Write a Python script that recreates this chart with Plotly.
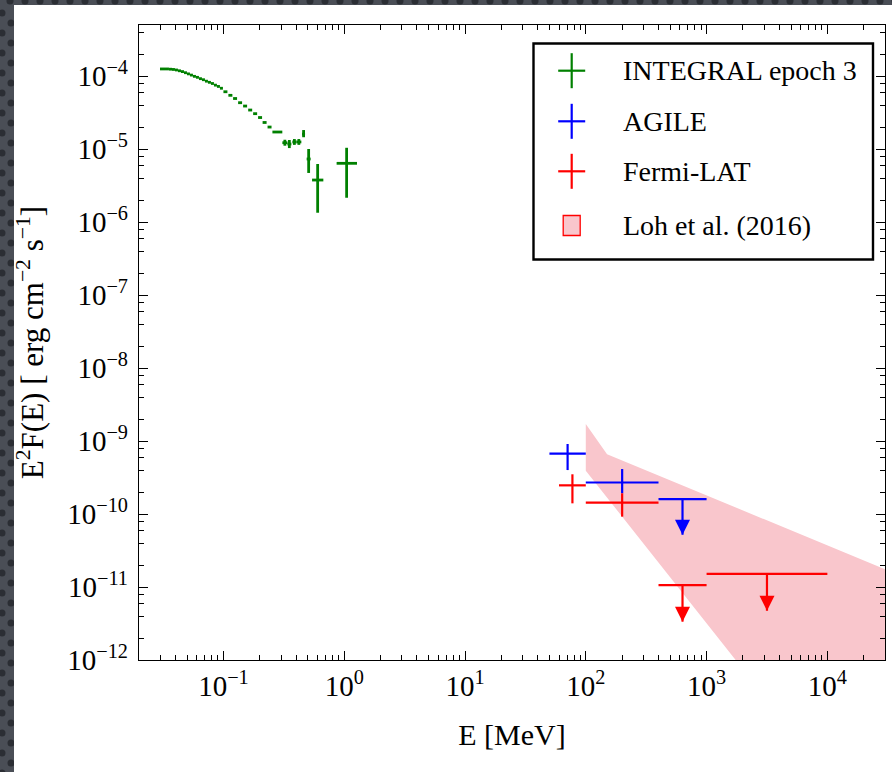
import math
import plotly.graph_objects as go

# ---------------- data (energies in MeV, E^2F(E) in erg cm^-2 s^-1) ----------------
# INTEGRAL epoch 3 spectrum: bin centre, bin edges, flux and flux interval
INTEGRAL_E = [0.0307, 0.0325, 0.0344, 0.0364, 0.0386, 0.0408, 0.0433, 0.0458, 0.0485, 0.0513,
              0.0544, 0.0576, 0.0609, 0.0645, 0.0683, 0.0724, 0.0766, 0.0811, 0.0859, 0.0909,
              0.0963, 0.1039, 0.1142, 0.1249, 0.1374, 0.1511, 0.1665, 0.1830, 0.2011, 0.2192,
              0.2409, 0.280, 0.3226, 0.3514, 0.3867, 0.4211, 0.461, 0.5076, 0.6026, 1.047]
INTEGRAL_E_LO = [0.02985, 0.0316, 0.03345, 0.03541, 0.0375, 0.0397, 0.04204, 0.04451, 0.04713, 0.0499,
                 0.05283, 0.05593, 0.05923, 0.06271, 0.0664, 0.07031, 0.07444, 0.07882, 0.08346, 0.08836,
                 0.09355, 0.1000, 0.1099, 0.1202, 0.1323, 0.1455, 0.1603, 0.1762, 0.1936, 0.2110,
                 0.2319, 0.2544, 0.3076, 0.3384, 0.3721, 0.4016, 0.448, 0.4887, 0.5417, 0.8651]
INTEGRAL_E_HI = [0.0316, 0.03345, 0.03541, 0.0375, 0.0397, 0.04204, 0.04451, 0.04713, 0.0499, 0.05283,
                 0.05593, 0.05923, 0.06271, 0.0664, 0.07031, 0.07444, 0.07882, 0.08346, 0.08836, 0.09355,
                 0.09906, 0.1079, 0.1186, 0.1297, 0.1427, 0.1570, 0.1730, 0.1901, 0.2089, 0.2277,
                 0.2502, 0.3073, 0.3384, 0.3650, 0.4016, 0.4416, 0.474, 0.5273, 0.6717, 1.276]
INTEGRAL_F = [1.25e-4, 1.25e-4, 1.25e-4, 1.24e-4, 1.23e-4, 1.21e-4, 1.18e-4, 1.15e-4, 1.11e-4, 1.07e-4,
              1.03e-4, 9.9e-5, 9.6e-5, 9.2e-5, 8.9e-5, 8.5e-5, 8.2e-5, 7.9e-5, 7.5e-5, 7.2e-5,
              6.8e-5, 6.09e-5, 5.44e-5, 4.92e-5, 4.31e-5, 3.88e-5, 3.42e-5, 3.05e-5, 2.70e-5, 2.31e-5,
              2.00e-5, 1.71e-5, 1.22e-5, 1.17e-5, 1.25e-5, 1.25e-5, 1.60e-5, 7.3e-6, 3.76e-6, 6.37e-6]
INTEGRAL_F_LO = [1.25e-4, 1.25e-4, 1.25e-4, 1.24e-4, 1.23e-4, 1.21e-4, 1.18e-4, 1.15e-4, 1.11e-4, 1.07e-4,
                 1.03e-4, 9.9e-5, 9.6e-5, 9.2e-5, 8.9e-5, 8.5e-5, 8.2e-5, 7.9e-5, 7.5e-5, 7.2e-5,
                 6.8e-5, 6.09e-5, 5.44e-5, 4.92e-5, 4.31e-5, 3.88e-5, 3.42e-5, 3.05e-5, 2.70e-5, 2.31e-5,
                 2.00e-5, 1.71e-5, 1.11e-5, 1.03e-5, 1.14e-5, 1.14e-5, 1.45e-5, 4.7e-6, 1.34e-6, 2.15e-6]
INTEGRAL_F_HI = [1.25e-4, 1.25e-4, 1.25e-4, 1.24e-4, 1.23e-4, 1.21e-4, 1.18e-4, 1.15e-4, 1.11e-4, 1.07e-4,
                 1.03e-4, 9.9e-5, 9.6e-5, 9.2e-5, 8.9e-5, 8.5e-5, 8.2e-5, 7.9e-5, 7.5e-5, 7.2e-5,
                 6.8e-5, 6.09e-5, 5.44e-5, 4.92e-5, 4.31e-5, 3.88e-5, 3.42e-5, 3.05e-5, 2.70e-5, 2.31e-5,
                 2.00e-5, 1.71e-5, 1.34e-5, 1.33e-5, 1.37e-5, 1.37e-5, 1.82e-5, 1.0e-5, 6.23e-6, 1.04e-5]

# AGILE detections
AGILE_E = [70.7, 200.0]
AGILE_E_LO = [50.0, 100.0]
AGILE_E_HI = [100.0, 400.0]
AGILE_F = [6.7e-10, 2.7e-10]
AGILE_F_LO = [4.0e-10, 1.92e-10]
AGILE_F_HI = [9.1e-10, 4.13e-10]
# AGILE upper limit (value and arrow end)
AGILE_UL_E = [632.0]
AGILE_UL_E_LO = [400.0]
AGILE_UL_E_HI = [1000.0]
AGILE_UL_F = [1.6e-10]
AGILE_UL_TIP = [5.2e-11]

# Fermi-LAT detections
FERMI_E = [77.5, 200.0]
FERMI_E_LO = [60.0, 100.0]
FERMI_E_HI = [100.0, 400.0]
FERMI_F = [2.47e-10, 1.43e-10]
FERMI_F_LO = [1.40e-10, 9.2e-11]
FERMI_F_HI = [3.50e-10, 1.92e-10]
# Fermi-LAT upper limits
FERMI_UL_E = [632.0, 3162.0]
FERMI_UL_E_LO = [400.0, 1000.0]
FERMI_UL_E_HI = [1000.0, 10000.0]
FERMI_UL_F = [1.06e-11, 1.51e-11]
FERMI_UL_TIP = [3.35e-12, 4.73e-12]

# Loh et al. (2016) allowed region (polygon outline)
LOH_E = [100.0, 150.0, 3.0e4, 3.0e4, 100.0]
LOH_F = [1.71e-9, 6.6e-10, 1.75e-11, 2.6e-15, 3.92e-10]

SERIES_NAMES = ["INTEGRAL epoch 3", "AGILE", "Fermi-LAT", "Loh et al. (2016)"]
SERIES_COLORS = ["#008000", "#0000ff", "#ff0000", "#f9c6cc"]

X_TICK_VALUES = [0.1, 1, 10, 100, 1000, 10000]
X_TICK_LABELS = ["10<sup>\u22121</sup>", "10<sup>0</sup>", "10<sup>1</sup>",
                 "10<sup>2</sup>", "10<sup>3</sup>", "10<sup>4</sup>"]
Y_TICK_VALUES = [1e-12, 1e-11, 1e-10, 1e-9, 1e-8, 1e-7, 1e-6, 1e-5, 1e-4]
Y_TICK_LABELS = ["10<sup>\u221212</sup>", "10<sup>\u221211</sup>", "10<sup>\u221210</sup>",
                 "10<sup>\u22129</sup>", "10<sup>\u22128</sup>", "10<sup>\u22127</sup>",
                 "10<sup>\u22126</sup>", "10<sup>\u22125</sup>", "10<sup>\u22124</sup>"]

X_RANGE = [0.02, 3.0e4]
Y_RANGE = [1e-12, 5e-4]

# ---------------- styling ----------------
FONT = "Liberation Serif, Times New Roman, serif"
W, H = 892, 772
ML, MR, MT, MB = 139, 7, 25, 112
PW, PH = W - ML - MR, H - MT - MB
BAR_W = 2.2


def px_x(p):
    """Horizontal pixel -> paper coordinate."""
    return (p - ML) / PW


def px_y(p):
    """Vertical pixel (from top) -> paper coordinate."""
    return (H - MB - p) / PH


def err(center, lo, hi):
    plus = [h - c for c, h in zip(center, hi)]
    minus = [c - l for c, l in zip(center, lo)]
    return plus, minus


def errorbar_trace(name, color, x, xlo, xhi, y, ylo, yhi, thickness=BAR_W):
    xp, xm = err(x, xlo, xhi)
    yp, ym = err(y, ylo, yhi)
    return go.Scatter(
        x=x, y=y, name=name, mode="markers", showlegend=False,
        marker=dict(size=0.1, color=color, opacity=0),
        error_x=dict(type="data", symmetric=False, array=xp, arrayminus=xm,
                     color=color, thickness=thickness, width=0),
        error_y=dict(type="data", symmetric=False, array=yp, arrayminus=ym,
                     color=color, thickness=thickness, width=0),
        hoverinfo="x+y",
    )


def upper_limit_traces(name, color, x, xlo, xhi, y, tip):
    bars = errorbar_trace(name, color, x, xlo, xhi, y, tip, y)
    heads = go.Scatter(
        x=x, y=tip, mode="markers", showlegend=False, name=name,
        marker=dict(symbol="arrow-down", size=15, color=color, line=dict(width=0)),
        hoverinfo="skip",
    )
    return [bars, heads]


fig = go.Figure()

# Loh et al. band
fig.add_trace(go.Scatter(
    x=LOH_E, y=LOH_F, name=SERIES_NAMES[3], mode="lines", fill="toself",
    fillcolor=SERIES_COLORS[3], line=dict(width=0, color=SERIES_COLORS[3]),
    showlegend=False, hoverinfo="skip",
))

# INTEGRAL spectrum
fig.add_trace(errorbar_trace(SERIES_NAMES[0], SERIES_COLORS[0], INTEGRAL_E, INTEGRAL_E_LO,
                             INTEGRAL_E_HI, INTEGRAL_F, INTEGRAL_F_LO, INTEGRAL_F_HI, thickness=2.8))

# AGILE
fig.add_trace(errorbar_trace(SERIES_NAMES[1], SERIES_COLORS[1], AGILE_E, AGILE_E_LO, AGILE_E_HI,
                             AGILE_F, AGILE_F_LO, AGILE_F_HI))
for tr in upper_limit_traces(SERIES_NAMES[1], SERIES_COLORS[1], AGILE_UL_E, AGILE_UL_E_LO,
                             AGILE_UL_E_HI, AGILE_UL_F, AGILE_UL_TIP):
    fig.add_trace(tr)

# Fermi-LAT
fig.add_trace(errorbar_trace(SERIES_NAMES[2], SERIES_COLORS[2], FERMI_E, FERMI_E_LO, FERMI_E_HI,
                             FERMI_F, FERMI_F_LO, FERMI_F_HI))
for tr in upper_limit_traces(SERIES_NAMES[2], SERIES_COLORS[2], FERMI_UL_E, FERMI_UL_E_LO,
                             FERMI_UL_E_HI, FERMI_UL_F, FERMI_UL_TIP):
    fig.add_trace(tr)

# ---------------- axes ----------------
x_minor = [m * 10.0 ** d for d in range(-2, 5) for m in range(2, 10)]
y_minor = [m * 10.0 ** d for d in range(-13, -3) for m in (2, 4, 6, 8)]

axis_common = dict(
    type="log", showgrid=False, zeroline=False,
    showline=True, linecolor="black", linewidth=1.4, mirror="ticks",
    ticks="inside", ticklen=9, tickwidth=1.2, tickcolor="black",
    tickfont=dict(family=FONT, size=29, color="black"),
    tickmode="array",
)

fig.update_xaxes(
    **axis_common,
    range=[math.log10(X_RANGE[0]), math.log10(X_RANGE[1])],
    tickvals=X_TICK_VALUES, ticktext=X_TICK_LABELS,
    minor=dict(tickmode="array", tickvals=x_minor, ticks="inside", ticklen=5,
               tickwidth=1.0, tickcolor="black"),
    title=dict(text="E [MeV]", font=dict(family=FONT, size=30, color="black"), standoff=22),
)
fig.update_yaxes(
    **axis_common,
    range=[math.log10(Y_RANGE[0]), math.log10(Y_RANGE[1])],
    tickvals=Y_TICK_VALUES, ticktext=Y_TICK_LABELS,
    minor=dict(tickmode="array", tickvals=y_minor, ticks="inside", ticklen=5,
               tickwidth=1.0, tickcolor="black"),
    ticklabelstandoff=4,
    title=dict(text="E<sup>2</sup>F(E) [ erg cm<sup>\u22122</sup> s<sup>\u22121</sup>]",
               font=dict(family=FONT, size=31, color="black"), standoff=14),
)

# ---------------- page frame ----------------
shapes = []
FRAME_BG = "#4a4e56"
DOT = "#2b2e34"
# dotted texture on the dark border
for cx in range(10, W + 8, 15):
    shapes.append(dict(type="circle", xref="paper", yref="paper", layer="below",
                       x0=px_x(cx - 3.5), x1=px_x(cx + 3.5), y0=px_y(1 + 3.5), y1=px_y(1 - 3.5),
                       fillcolor=DOT, line=dict(width=0)))
for i, cy in enumerate(range(13, H + 8, 10)):
    cx = 2 if i % 2 == 0 else 11
    shapes.append(dict(type="circle", xref="paper", yref="paper", layer="below",
                       x0=px_x(cx - 3.5), x1=px_x(cx + 3.5), y0=px_y(cy + 3.5), y1=px_y(cy - 3.5),
                       fillcolor=DOT, line=dict(width=0)))
# white sheet over the rest of the page
shapes.append(dict(type="rect", xref="paper", yref="paper", layer="below",
                   x0=px_x(14), x1=px_x(W + 2), y0=px_y(H + 2), y1=px_y(5),
                   fillcolor="white", line=dict(width=0)))

# ---------------- legend ----------------
annotations = []
LEG_X0, LEG_X1, LEG_Y0, LEG_Y1 = 533.5, 873, 43.5, 259.5
shapes.append(dict(type="rect", xref="paper", yref="paper", layer="above",
                   x0=px_x(LEG_X0), x1=px_x(LEG_X1), y0=px_y(LEG_Y1), y1=px_y(LEG_Y0),
                   fillcolor="white", line=dict(color="black", width=2.4)))
row_y = [70.7, 121.3, 171.3, 225.5]
sym_x = 571.7
for name, color, ry in zip(SERIES_NAMES, SERIES_COLORS, row_y):
    if name == SERIES_NAMES[3]:
        shapes.append(dict(type="rect", xref="paper", yref="paper", layer="above",
                           x0=px_x(sym_x - 8.5), x1=px_x(sym_x + 8.5),
                           y0=px_y(ry + 10), y1=px_y(ry - 10),
                           fillcolor=color, line=dict(color="#ff0000", width=1.3)))
    else:
        shapes.append(dict(type="line", xref="paper", yref="paper", layer="above",
                           x0=px_x(sym_x - 13.5), x1=px_x(sym_x + 13.5), y0=px_y(ry), y1=px_y(ry),
                           line=dict(color=color, width=BAR_W)))
        shapes.append(dict(type="line", xref="paper", yref="paper", layer="above",
                           x0=px_x(sym_x), x1=px_x(sym_x), y0=px_y(ry + 17.5), y1=px_y(ry - 17.5),
                           line=dict(color=color, width=BAR_W)))
    annotations.append(dict(xref="paper", yref="paper", x=px_x(621), y=px_y(ry),
                            xanchor="left", yanchor="middle", showarrow=False, text=name,
                            font=dict(family=FONT, size=28, color="black")))

fig.update_layout(
    width=W, height=H, autosize=False,
    margin=dict(l=ML, r=MR, t=MT, b=MB, pad=0),
    paper_bgcolor=FRAME_BG, plot_bgcolor="white",
    showlegend=False, shapes=shapes, annotations=annotations,
    font=dict(family=FONT, color="black"),
)

fig.write_html("out.html")
